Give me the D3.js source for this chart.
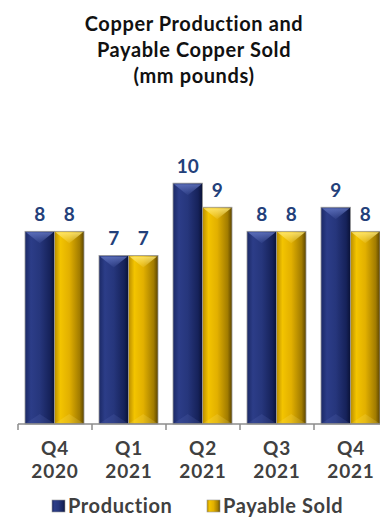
<!DOCTYPE html>
<html>
<head>
<meta charset="utf-8">
<script src="https://cdn.jsdelivr.net/npm/d3@7"></script>
<style>
  html, body { margin: 0; padding: 0; background: #fff; }
  svg { display: block; }
  text { font-family: Lato, "Open Sans", sans-serif; font-weight: 700; }
</style>
</head>
<body>
<svg id="chart" width="380" height="519"></svg>
<script>
// Quarterly copper figures, mm pounds
const quarters = ["Q4|2020", "Q1|2021", "Q2|2021", "Q3|2021", "Q4|2021"];
const seriesNames = ["Production", "Payable Sold"];
const production = [8, 7, 10, 8, 9];
const payableSold = [8, 7, 9, 8, 8];
const titleLines = ["Copper Production and", "Payable Copper Sold", "(mm pounds)"];

const W = 380, H = 519;
const svg = d3.select("#chart");
const margin = { left: 18, top: 135, bottom: 95 };
const bandW = 74;
const baseY = H - margin.bottom;

const x = d3.scaleBand().domain(quarters)
  .range([margin.left, margin.left + bandW * quarters.length]).paddingInner(0).paddingOuter(0);
const xs = d3.scaleBand().domain(seriesNames).range([7, bandW - 8]).padding(0);
const y = d3.scaleLinear().domain([0, 12]).range([baseY, margin.top]);

const palette = {
  "Production": { stops: ["#1b2966", "#2c3d88", "#26367c", "#16225a", "#0a1236"], bevel: "#6275c0", label: "#23407a" },
  "Payable Sold": { stops: ["#b88c00", "#f3c400", "#e2b000", "#a27c00", "#5c4500"], bevel: "#ffe977", label: "#23407a" }
};

const defs = svg.append("defs");
seriesNames.forEach((s, i) => {
  const g = defs.append("linearGradient").attr("id", "grad" + i)
    .attr("x1", 0).attr("x2", 1).attr("y1", 0).attr("y2", 0);
  [0, 0.2, 0.5, 0.85, 1].forEach((o, k) =>
    g.append("stop").attr("offset", o).attr("stop-color", palette[s].stops[k]));
  const b = defs.append("linearGradient").attr("id", "bevel" + i)
    .attr("x1", 0).attr("x2", 0).attr("y1", 0).attr("y2", 1);
  b.append("stop").attr("offset", 0).attr("stop-color", palette[s].bevel).attr("stop-opacity", 0.85);
  b.append("stop").attr("offset", 1).attr("stop-color", palette[s].bevel).attr("stop-opacity", 0.1);
});

// Title
svg.append("g").selectAll("text").data(titleLines).join("text")
  .attr("x", 194).attr("y", (d, i) => 31 + i * 26)
  .attr("text-anchor", "middle").attr("font-size", 20).attr("letter-spacing", 0.6).attr("fill", "#111")
  .text(d => d);

const rows = quarters.map((q, i) => ({ q, vals: [production[i], payableSold[i]] }));

const groups = svg.append("g").selectAll("g").data(rows).join("g")
  .attr("transform", d => `translate(${x(d.q)},0)`);

const bars = groups.selectAll("g.bar").data(d => d.vals.map((v, k) => ({ v, k, s: seriesNames[k] })))
  .join("g").attr("class", "bar");

bars.append("rect")
  .attr("x", d => xs(d.s)).attr("width", xs.bandwidth())
  .attr("y", d => y(d.v)).attr("height", d => baseY - y(d.v))
  .attr("fill", d => `url(#grad${d.k})`)
  .attr("stroke", "#9a9a9a").attr("stroke-width", 0.8);

// top chevron highlight
bars.append("path")
  .attr("d", d => {
    const x0 = xs(d.s) + 1, x1 = xs(d.s) + xs.bandwidth() - 1, t = y(d.v) + 1;
    return `M${x0},${t}L${x1},${t}L${(x0 + x1) / 2},${t + 11}Z`;
  })
  .attr("fill", d => `url(#bevel${d.k})`);

// faint bottom chevron
bars.append("path")
  .attr("d", d => {
    const x0 = xs(d.s) + 1, x1 = xs(d.s) + xs.bandwidth() - 1, b = baseY - 1;
    return `M${x0},${b}L${x1},${b}L${(x0 + x1) / 2},${b - 9}Z`;
  })
  .attr("fill", d => palette[d.s].bevel).attr("opacity", 0.18);

// value labels
bars.append("text")
  .attr("x", d => xs(d.s) + xs.bandwidth() / 2)
  .attr("y", d => y(d.v) - 10)
  .attr("text-anchor", "middle").attr("font-size", 19)
  .attr("fill", d => palette[d.s].label)
  .text(d => d3.format("d")(d.v));

// axis
const axisG = svg.append("g");
axisG.append("line").attr("x1", margin.left).attr("x2", W).attr("y1", baseY).attr("y2", baseY)
  .attr("stroke", "#8c8c8c").attr("stroke-width", 1.5);
axisG.selectAll("line.tick").data(quarters).join("line").attr("class", "tick")
  .attr("x1", d => x(d)).attr("x2", d => x(d)).attr("y1", baseY).attr("y2", baseY + 6)
  .attr("stroke", "#8c8c8c").attr("stroke-width", 1.5);
const lab = axisG.selectAll("text").data(quarters).join("text")
  .attr("text-anchor", "middle").attr("font-size", 19).attr("letter-spacing", 0.8).attr("fill", "#404040");
lab.append("tspan").attr("x", d => x(d) + bandW / 2).attr("y", baseY + 31).text(d => d.split("|")[0]);
lab.append("tspan").attr("x", d => x(d) + bandW / 2).attr("y", baseY + 54).text(d => d.split("|")[1]);

// legend
const legendX = [52, 207];
const leg = svg.append("g").selectAll("g").data(seriesNames).join("g")
  .attr("transform", (d, i) => `translate(${legendX[i]},${H - 13})`);
leg.append("rect").attr("x", 0).attr("y", -6).attr("width", 13).attr("height", 12)
  .attr("fill", (d, i) => `url(#grad${i})`).attr("stroke", "#9a9a9a").attr("stroke-width", 0.6);
leg.append("text").attr("x", 16).attr("y", 7).attr("font-size", 20).attr("fill", "#404040")
  .attr("letter-spacing", 0.6).text(d => d);
</script>
</body>
</html>
